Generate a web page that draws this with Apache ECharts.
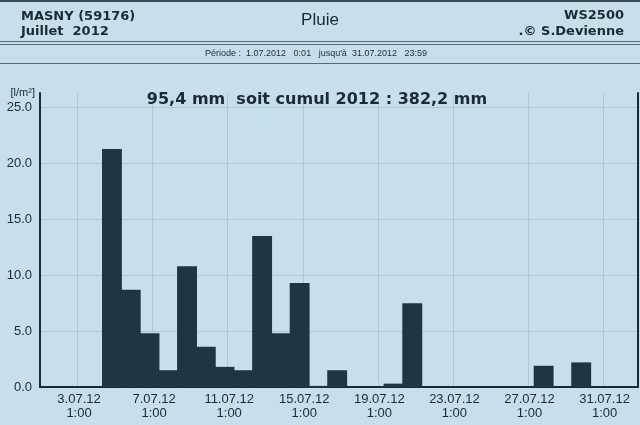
<!DOCTYPE html>
<html><head><meta charset="utf-8">
<script src="https://cdn.jsdelivr.net/npm/echarts@6/dist/echarts.min.js"></script>
<style>html,body{margin:0;padding:0;background:#c7dfea}#c{width:640px;height:425px}</style>
</head><body><div id="c"></div>
<script>
// Daily rain, July 2012 (day 1..31), l/m²
const days = Array.from({length: 31}, (_, i) => i + 1);
const rain = [0, 0, 0, 21.3, 8.7, 4.8, 1.5, 10.8, 3.6, 1.8, 1.5, 13.5, 4.8, 9.3, 0.1, 1.5, 0, 0, 0.3, 7.5,
              0, 0, 0, 0, 0, 0, 1.9, 0, 2.2, 0, 0];
// x axis: days since 1.07.12 1:00 ; a rain day runs from 9:00 to 9:00 next day
const dayStartOffset = 8 / 24;
const tickLabels = ['3.07.12\n1:00', '7.07.12\n1:00', '11.07.12\n1:00', '15.07.12\n1:00',
                    '19.07.12\n1:00', '23.07.12\n1:00', '27.07.12\n1:00', '31.07.12\n1:00'];
const tickFirst = 2, tickStep = 4;
const xMax = 31.86;
const yMax = 26.3;

const ink = '#1b2a33';
const gridCol = '#b0c8d3';
const barCol = '#1f3542';

const chart = echarts.init(document.getElementById('c'), null, {renderer: 'canvas'});
chart.setOption({
  backgroundColor: '#c7dfea',
  animation: false,
  textStyle: {fontFamily: 'Liberation Sans'},
  title: [
    {text: '95,4 mm  soit cumul 2012 : 382,2 mm', left: 317, top: 92, textAlign: 'center', padding: 0,
     textStyle: {fontFamily: 'DejaVu Sans', fontWeight: 'bold', fontSize: 16, color: ink}},
    {text: 'MASNY (59176)', left: 21, top: 10, padding: 0,
     textStyle: {fontFamily: 'DejaVu Sans', fontWeight: 'bold', fontSize: 13, color: ink}},
    {text: 'Juillet  2012', left: 21, top: 25, padding: 0,
     textStyle: {fontFamily: 'DejaVu Sans', fontWeight: 'bold', fontSize: 13, color: ink}},
    {text: 'Pluie', left: 320, top: 12, textAlign: 'center', padding: 0,
     textStyle: {fontFamily: 'Liberation Sans', fontWeight: 'normal', fontSize: 17, color: ink}},
    {text: 'WS2500', right: 16, top: 9, padding: 0,
     textStyle: {fontFamily: 'DejaVu Sans', fontWeight: 'bold', fontSize: 13, color: ink}},
    {text: '.© S.Devienne', right: 16, top: 25, padding: 0,
     textStyle: {fontFamily: 'DejaVu Sans', fontWeight: 'bold', fontSize: 13, color: ink}},
    {text: 'Période :  1.07.2012   0:01   jusqu\'à  31.07.2012   23:59', left: 316, top: 49, textAlign: 'center', padding: 0,
     textStyle: {fontFamily: 'Liberation Sans', fontWeight: 'normal', fontSize: 9, color: ink}}
  ],
  graphic: [
    {type: 'rect', shape: {x: 0, y: 0, width: 640, height: 2}, style: {fill: '#3a4a52'}},
    {type: 'rect', shape: {x: 0, y: 41, width: 640, height: 1}, style: {fill: '#5a6a72'}},
    {type: 'rect', shape: {x: 0, y: 44, width: 640, height: 1}, style: {fill: '#5a6a72'}},
    {type: 'rect', shape: {x: 0, y: 63, width: 640, height: 1}, style: {fill: '#5a6a72'}}
  ],
  grid: {left: 40, right: 2, top: 93, bottom: 38, outerBoundsMode: 'none'},
  xAxis: {
    type: 'value', min: 0, max: xMax, interval: 2,
    axisLine: {show: true, lineStyle: {color: ink, width: 2}},
    axisTick: {show: false},
    axisLabel: {
      color: ink, fontSize: 13, lineHeight: 14, margin: 5, padding: [0, 0, 0, 3],
      formatter: function (v) {
        const r = (v - tickFirst) / tickStep;
        if (Math.abs(r - Math.round(r)) < 1e-6 && Math.round(r) >= 0 && Math.round(r) < tickLabels.length) {
          return tickLabels[Math.round(r)];
        }
        return '';
      }
    },
    splitLine: {show: true, lineStyle: {color: ['transparent', gridCol], width: 1}}
  },
  yAxis: [{
    type: 'value', min: 0, max: yMax, interval: 5,
    name: '[l/m²]', nameLocation: 'end', nameGap: 0,
    nameTextStyle: {color: ink, fontSize: 11, align: 'right', verticalAlign: 'middle', padding: [0, 5, 4, 0]},
    axisLine: {show: true, lineStyle: {color: ink, width: 2}},
    axisTick: {show: false},
    axisLabel: {color: ink, fontSize: 13, margin: 8,
      formatter: v => (Math.abs(v / 5 - Math.round(v / 5)) < 1e-6 ? v.toFixed(1) : '')},
    splitLine: {show: true, showMaxLine: false, lineStyle: {color: gridCol, width: 1}}
  }, {
    type: 'value', min: 0, max: yMax, position: 'right',
    axisLine: {show: true, lineStyle: {color: ink, width: 2}},
    axisTick: {show: false}, axisLabel: {show: false}, splitLine: {show: false}
  }],
  series: [{
    type: 'bar',
    data: days.map((d, i) => [d - 1 + dayStartOffset + 0.5, rain[i]]),
    barWidth: '106%',
    itemStyle: {color: barCol, borderWidth: 0},
    silent: true
  }]
});
</script>
</body></html>
